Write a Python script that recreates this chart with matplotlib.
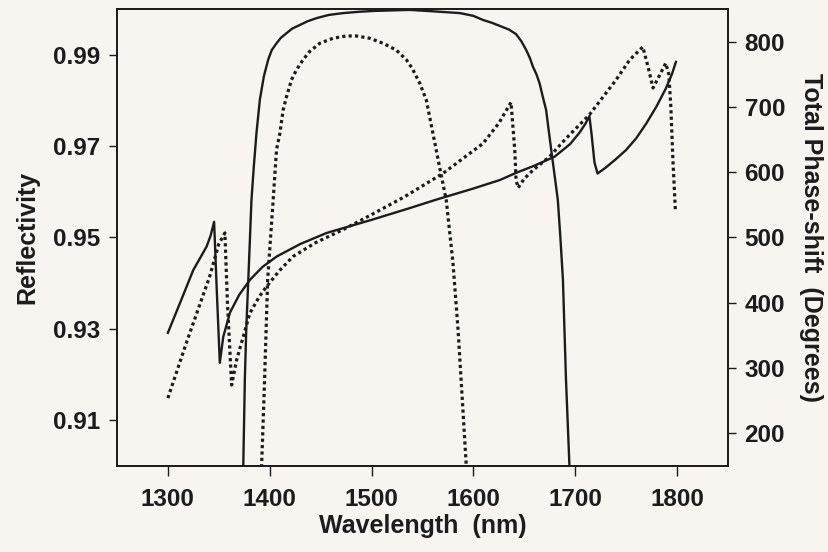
import numpy as np
import matplotlib
matplotlib.use('Agg')
import matplotlib.pyplot as plt

# Reflectivity curves (left axis)
wl_r_solid = [1374.0, 1375.6, 1377.0, 1379.0, 1382.1, 1384.4, 1387.0, 1390.3, 1394.2,
              1398.5, 1402.0, 1406.7, 1411.0, 1416.5, 1422.0, 1429.6, 1437.0, 1446.0,
              1458.0, 1472.0, 1488.0, 1504.8, 1537.5, 1560.0, 1587.0, 1600.0, 1609.5,
              1618.0, 1626.0, 1635.0, 1642.0, 1647.0, 1652.0, 1655.5, 1658.5, 1662.0,
              1665.0, 1668.0, 1671.5, 1674.0, 1676.5, 1680.0, 1683.0, 1685.5, 1688.0,
              1691.0, 1694.5]
r_solid = [0.8995, 0.919, 0.930, 0.9408, 0.9582, 0.9655, 0.9728, 0.9801, 0.9852,
           0.9889, 0.9910, 0.9925, 0.9937, 0.9947, 0.9957, 0.9965, 0.9973, 0.9980,
           0.9987, 0.9991, 0.9994, 0.9996, 0.9998, 0.9995, 0.9991, 0.9985, 0.9976,
           0.9970, 0.9963, 0.9955, 0.9945, 0.9930, 0.9910, 0.9893, 0.9874, 0.9857,
           0.9838, 0.9810, 0.9779, 0.9735, 0.9692, 0.9633, 0.9582, 0.9500, 0.9408,
           0.919, 0.8995]

wl_r_dot = [1392.0, 1395.0, 1398.0, 1403.4, 1406.7, 1410.0, 1413.2, 1416.5, 1421.4,
            1426.3, 1432.8, 1439.3, 1449.2, 1462.2, 1475.3, 1485.1, 1498.2, 1511.3,
            1524.4, 1534.2, 1540.0, 1547.3, 1553.8, 1560.3, 1566.8, 1573.4, 1580.0,
            1585.0, 1589.0, 1593.0]
r_dot = [0.8997, 0.919, 0.9408, 0.9582, 0.9692, 0.9728, 0.9779, 0.9808, 0.9845,
         0.9867, 0.9889, 0.9907, 0.9925, 0.9936, 0.9941, 0.9941, 0.9936, 0.9925,
         0.9910, 0.9889, 0.9870, 0.9838, 0.9801, 0.9728, 0.9655, 0.9582, 0.9445,
         0.9298, 0.9152, 0.9003]

# Total phase-shift curves (right axis)
wl_p_solid = [1300, 1312, 1324.9, 1338, 1342, 1345.4, 1348, 1351, 1354.4, 1361, 1370,
              1380.5, 1393, 1407, 1430, 1456, 1500, 1537.5, 1563.6, 1600, 1626, 1642,
              1660, 1680, 1695, 1704, 1710, 1714, 1716, 1719, 1722, 1730, 1740, 1750,
              1760, 1770, 1780, 1789, 1795, 1799]
p_solid = [354, 400, 450, 486, 503, 524, 420, 308, 348, 385, 412,
           435, 455, 471, 490, 507, 527, 545, 558, 575, 588, 599,
           610, 624, 643, 660, 674, 686, 660, 615, 598, 607, 620, 634,
           652, 675, 701, 728, 750, 769]

wl_p_dot = [1300, 1318, 1341, 1350, 1356, 1358.5, 1362.6, 1367.6, 1374, 1380.5, 1390,
            1397, 1410, 1423, 1445, 1472, 1500, 1532, 1570, 1609.5, 1625, 1637, 1640.7,
            1642, 1644, 1650, 1658.5, 1675, 1690, 1714, 1740, 1753.5, 1766.5, 1771.5,
            1776.5, 1789, 1792, 1794, 1796, 1798.5]
p_dot = [254, 338, 440, 490, 507, 400, 274, 313, 348, 384, 410,
         425, 450, 471, 492, 512, 535, 562, 598, 644, 675, 707, 634,
         588, 576, 590, 603, 624, 650, 688, 741, 772, 792, 762,
         729, 767, 750, 700, 620, 540]

x_ticks = [1300, 1400, 1500, 1600, 1700, 1800]
r_ticks = [0.91, 0.93, 0.95, 0.97, 0.99]
p_ticks = [200, 300, 400, 500, 600, 700, 800]

bg = '#f8f4ef'
ink = '#1c1c1c'
plt.rcParams['font.family'] = ['Liberation Sans', 'DejaVu Sans']
plt.rcParams['font.weight'] = 'bold'

fig = plt.figure(figsize=(8.29, 5.52), dpi=100, facecolor=bg)
ax = fig.add_axes([0.1411, 0.1558, 0.7369, 0.8279], facecolor=bg)
ax2 = ax.twinx()

dots = (0, (1, 1))
ax.plot(wl_r_solid, r_solid, color=ink, lw=1.7, solid_joinstyle='round')
ax.plot(wl_r_dot, r_dot, color=ink, lw=2.3, linestyle=dots)
ax2.plot(wl_p_solid, p_solid, color=ink, lw=1.7, solid_joinstyle='round')
ax2.plot(wl_p_dot, p_dot, color=ink, lw=2.3, linestyle=dots)

ax.set_xlim(1250, 1850)
ax.set_ylim(0.90, 1.00)
ax2.set_ylim(150, 850)
ax.set_xticks(x_ticks)
ax.set_yticks(r_ticks)
ax.set_yticklabels(['%.2f' % t for t in r_ticks])
ax2.set_yticks(p_ticks)

for a in (ax, ax2):
    a.tick_params(direction='out', length=6, width=1, colors=ink, labelsize=17.5, pad=6)
    for s in a.spines.values():
        s.set_color(ink)
        s.set_linewidth(1.3)
ax.tick_params(axis='x', length=7, pad=9)

ax.set_xlabel('Wavelength  (nm)', fontsize=18, fontweight='bold', color=ink, labelpad=2)
ax.set_ylabel('Reflectivity', fontsize=18, fontweight='bold', color=ink, labelpad=10)
ax2.set_ylabel('Total Phase-shift  (Degrees)', fontsize=18, fontweight='bold', color=ink,
               rotation=270, labelpad=27)

fig.savefig('out.png', dpi=100, facecolor=bg)
